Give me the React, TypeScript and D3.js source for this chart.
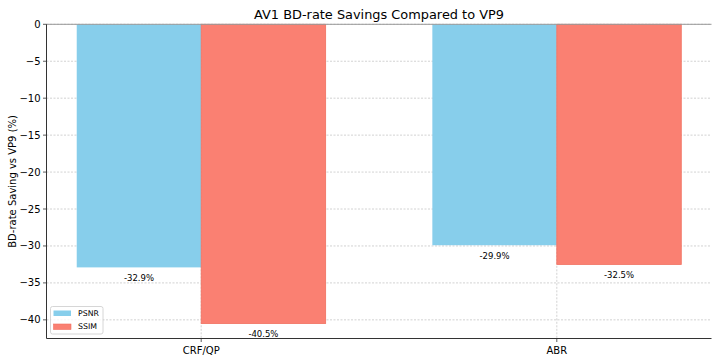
import React from "react";
import * as d3 from "d3";

const categories = ["CRF/QP", "ABR"];
const seriesNames = ["PSNR", "SSIM"];
const psnr = [-32.9, -29.9];
const ssim = [-40.5, -32.5];
const yTicks = [0, -5, -10, -15, -20, -25, -30, -35, -40];
const colors = ["#87CEEB", "#FA8072"];

export default function App() {
  const W = 720, H = 360;
  const left = 46.5, right = 711.5, top = 24.3, bottom = 338.5;
  const barW = 0.35;
  const x = d3.scaleLinear().domain([-0.435, 1.435]).range([left, right]);
  const y = d3.scaleLinear().domain([-42.525, 0]).range([bottom, top]);
  const series = [psnr, ssim];
  const font = "DejaVu Sans, sans-serif";
  const fmtTick = (v: number) => (v < 0 ? "\u2212" + Math.abs(v) : String(v));

  return (
    <svg width={W} height={H} style={{ position: "absolute", left: 0, top: 0 }} fontFamily={font}>
      <rect x={0} y={0} width={W} height={H} fill="#fff" />
      {/* grid */}
      {yTicks.map((t) => (
        <line key={"gy" + t} x1={left} x2={right} y1={y(t)} y2={y(t)} stroke="#b0b0b0" strokeWidth={0.8} strokeDasharray="2,1.5" opacity={0.7} />
      ))}
      {categories.map((c, i) => (
        <line key={"gx" + c} x1={x(i)} x2={x(i)} y1={top} y2={bottom} stroke="#b0b0b0" strokeWidth={0.8} strokeDasharray="2,1.5" opacity={0.7} />
      ))}
      {/* bars */}
      {series.map((vals, s) =>
        vals.map((v, i) => {
          const x0 = x(i + (s === 0 ? -barW : 0));
          const x1 = x(i + (s === 0 ? 0 : barW));
          return (
            <rect key={s + "-" + i} x={x0} y={y(0)} width={x1 - x0} height={y(v) - y(0)} fill={colors[s]} stroke={s === 1 ? "#f07060" : "none"} strokeWidth={0.8} />
          );
        })
      )}
      {/* value labels */}
      {series.map((vals, s) =>
        vals.map((v, i) => {
          const cx = x(i + (s === 0 ? -barW / 2 : barW / 2));
          return (
            <text key={"l" + s + i} x={cx} y={y(v) + 13.5} textAnchor="middle" fontSize={8.5} fill="#000">
              {v.toFixed(1) + "%"}
            </text>
          );
        })
      )}
      {/* zero line */}
      <line x1={left} x2={right} y1={y(0)} y2={y(0)} stroke="#999" strokeWidth={1} />
      {/* spines */}
      <line x1={left} x2={left} y1={top} y2={bottom} stroke="#333" strokeWidth={1} />
      <line x1={left} x2={right} y1={bottom} y2={bottom} stroke="#333" strokeWidth={1} />
      {/* y ticks */}
      {yTicks.map((t) => (
        <g key={"yt" + t}>
          <line x1={left - 3.5} x2={left} y1={y(t)} y2={y(t)} stroke="#333" strokeWidth={0.8} />
          <text x={left - 6} y={y(t)} dy="0.35em" textAnchor="end" fontSize={10} fill="#000">{fmtTick(t)}</text>
        </g>
      ))}
      {/* x ticks */}
      {categories.map((c, i) => (
        <g key={"xt" + c}>
          <line x1={x(i)} x2={x(i)} y1={bottom} y2={bottom + 3.5} stroke="#333" strokeWidth={0.8} />
          <text x={x(i)} y={bottom + 15} textAnchor="middle" fontSize={10} fill="#000">{c}</text>
        </g>
      ))}
      {/* title */}
      <text x={(left + right) / 2} y={18.5} textAnchor="middle" fontSize={12.9} fill="#000">AV1 BD-rate Savings Compared to VP9</text>
      {/* y label */}
      <text transform={`translate(16,${(top + bottom) / 2}) rotate(-90)`} textAnchor="middle" fontSize={10} fill="#000">BD-rate Saving vs VP9 (%)</text>
      {/* legend */}
      <g>
        <rect x={50.5} y={306.5} width={52.5} height={27.5} rx={2} fill="#fff" fillOpacity={0.8} stroke="#ccc" strokeWidth={0.8} />
        {seriesNames.map((n, k) => (
          <g key={n}>
            <rect x={53.5} y={310.5 + k * 13.5} width={17.5} height={5.5} fill={colors[k]} stroke={k === 1 ? "#f07060" : "none"} strokeWidth={0.6} />
            <text x={78} y={313.2 + k * 13.5} dy="0.35em" fontSize={7.8} fill="#000">{n}</text>
          </g>
        ))}
      </g>
    </svg>
  );
}
